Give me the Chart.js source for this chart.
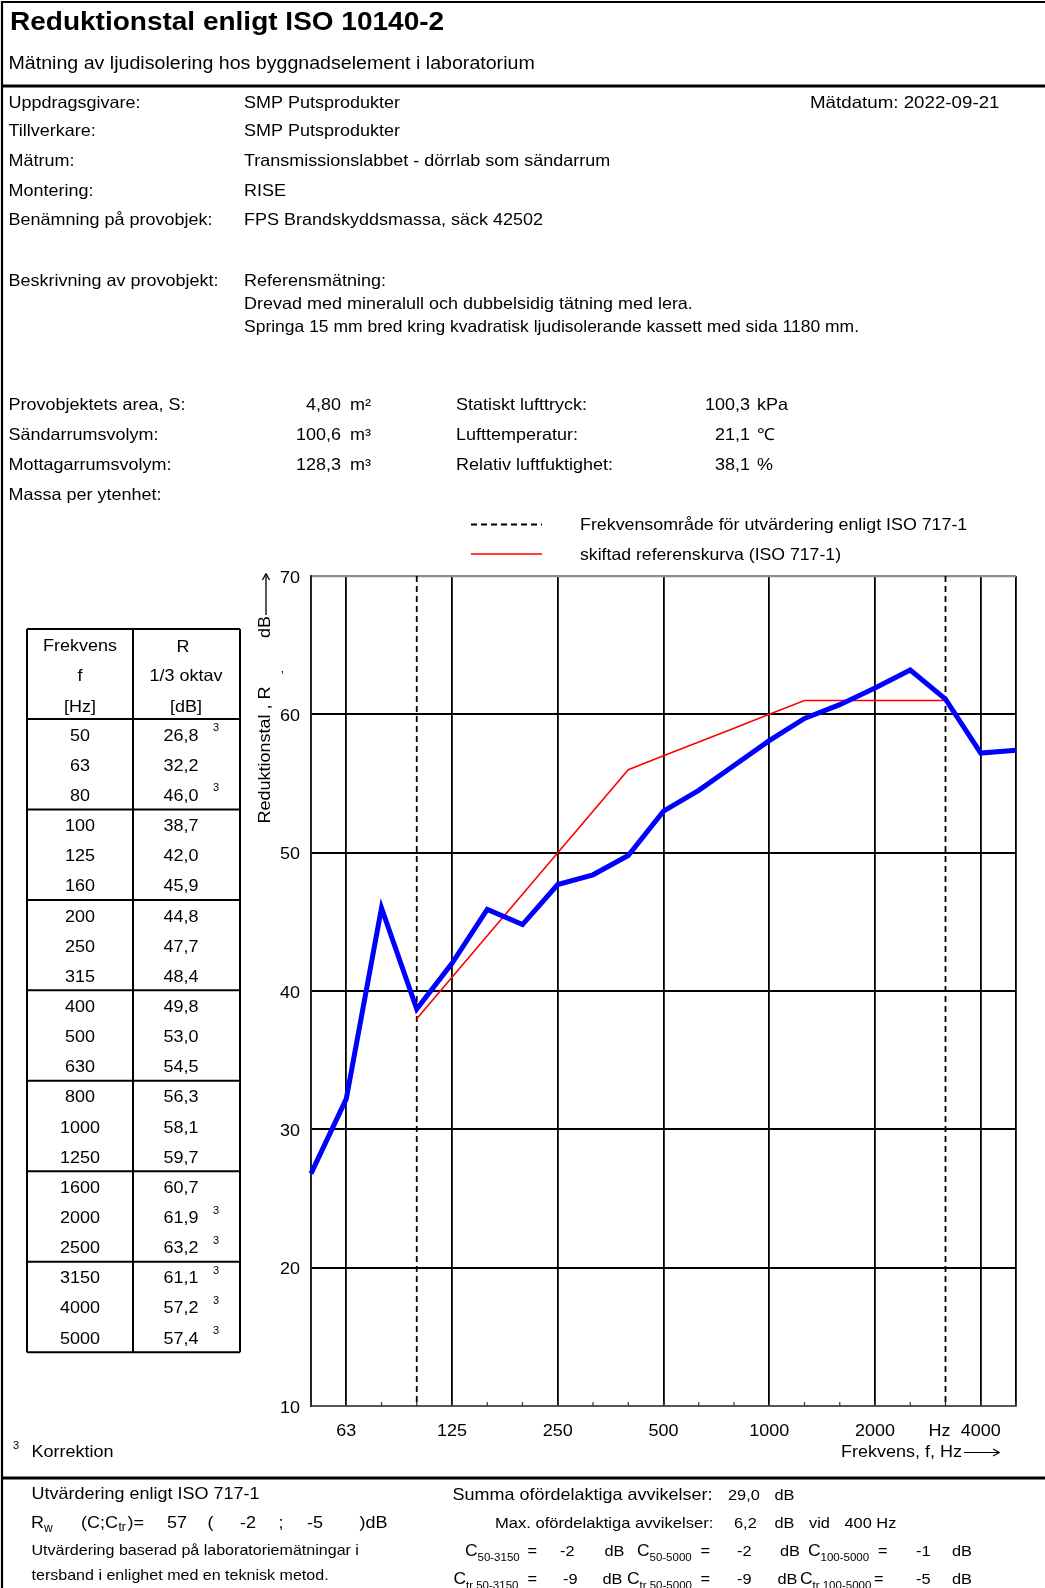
<!DOCTYPE html>
<html>
<head>
<meta charset="utf-8">
<script src="https://cdn.jsdelivr.net/npm/chart.js@4.4.1/dist/chart.umd.min.js"></script>
<style>
  html, body { margin: 0; padding: 0; background: #fff; }
  canvas { display: block; }
</style>
</head>
<body>
<canvas id="c" width="1045" height="1588"></canvas>
<script>
// ---------- data ----------
const bands = ['50','63','80','100','125','160','200','250','315','400','500','630','800','1000','1250','1600','2000','2500','3150','4000','5000'];
const measuredR = [26.8,32.2,46.0,38.7,42.0,45.9,44.8,47.7,48.4,49.8,53.0,54.5,56.3,58.1,59.7,60.7,61.9,63.2,61.1,57.2,57.4];
const shiftedRef = [null,null,null,38,41,44,47,50,53,56,57,58,59,60,61,61,61,61,61,null,null];
const correctedBands = ['50','80','2000','2500','3150','4000','5000'];
const yTickValues = [10,20,30,40,50,60,70];
const xTickBands = ['63','125','250','500','1000','2000','3150','4000'];
const xTickLabels = ['63','125','250','500','1000','2000','Hz','4000'];
const majorGridBands = ['50','63','125','250','500','1000','2000','4000','5000'];
const evalRangeBands = ['100','3150'];

const FONT = '"Liberation Sans", Arial, Helvetica, sans-serif';
const YOFF = 2;

function T(ctx, s, x, y, o = {}) {
  const size = o.size || 16.5, sx = o.sx || 1.09;
  ctx.save();
  ctx.font = (o.bold ? 'bold ' : '') + size + 'px ' + FONT;
  ctx.textBaseline = o.base || 'middle';
  ctx.textAlign = o.align || 'left';
  ctx.fillStyle = o.color || '#000';
  ctx.translate(x, o.rot ? y : y + YOFF);
  if (o.rot) ctx.rotate(o.rot);
  ctx.scale(sx, 1);
  ctx.fillText(s, 0, 0);
  ctx.restore();
}
function L(ctx, x1, y1, x2, y2, w, color, dash) {
  ctx.save();
  ctx.beginPath();
  ctx.strokeStyle = color || '#000';
  ctx.lineWidth = w || 1;
  if (dash) ctx.setLineDash(dash);
  ctx.moveTo(x1, y1); ctx.lineTo(x2, y2);
  ctx.stroke();
  ctx.restore();
}
const fmt = v => v.toFixed(1).replace('.', ',');

const pagePlugin = {
  id: 'page',
  beforeDatasetsDraw(chart) {
    const ctx = chart.ctx, xs = chart.scales.x, a = chart.chartArea;
    bands.forEach((b, i) => {
      const x = xs.getPixelForValue(i);
      L(ctx, x, a.bottom, x, a.bottom - 4, 1.2, '#333');
    });
    evalRangeBands.forEach(b => {
      const x = xs.getPixelForValue(bands.indexOf(b));
      L(ctx, x, a.top, x, a.bottom, 1.8, '#000', [6, 4]);
    });
  },
  afterDraw(chart) {
    const ctx = chart.ctx, xs = chart.scales.x, ys = chart.scales.y, a = chart.chartArea;

    // ---- page frame ----
    L(ctx, 2, 2, 1045, 2, 2.2);
    L(ctx, 2, 1, 2, 1588, 2.2);
    L(ctx, 2, 86, 1045, 86, 3);
    L(ctx, 2, 1478, 1045, 1478, 3);

    // ---- header ----
    T(ctx, 'Reduktionstal enligt ISO 10140-2', 10, 21, {size: 25, sx: 1.12, bold: true});
    T(ctx, 'Mätning av ljudisolering hos byggnadselement i laboratorium', 8.5, 62.5, {size: 17.5, sx: 1.12});

    const rows = [
      [101, 'Uppdragsgivare:', 'SMP Putsprodukter', 1.09],
      [129, 'Tillverkare:', 'SMP Putsprodukter', 1.09],
      [159, 'Mätrum:', 'Transmissionslabbet - dörrlab som sändarrum', 1.09],
      [189, 'Montering:', 'RISE', 1.09],
      [218.5, 'Benämning på provobjek:', 'FPS Brandskyddsmassa, säck 42502', 1.09],
      [279, 'Beskrivning av provobjekt:', 'Referensmätning:', 1.09],
      [302, '', 'Drevad med mineralull och dubbelsidig tätning med lera.', 1.09],
      [325, '', 'Springa 15 mm bred kring kvadratisk ljudisolerande kassett med sida 1180 mm.', 1.06]
    ];
    rows.forEach(r => { if (r[1]) T(ctx, r[1], 8.5, r[0]); T(ctx, r[2], 244, r[0], {sx: r[3]}); });
    T(ctx, 'Mätdatum: 2022-09-21', 810, 101, {sx: 1.135});

    const params = [
      [403, 'Provobjektets area, S:', '4,80', 'm²', 'Statiskt lufttryck:', '100,3', 'kPa'],
      [433, 'Sändarrumsvolym:', '100,6', 'm³', 'Lufttemperatur:', '21,1', '℃'],
      [463, 'Mottagarrumsvolym:', '128,3', 'm³', 'Relativ luftfuktighet:', '38,1', '%'],
      [493, 'Massa per ytenhet:', '', '', '', '', '']
    ];
    params.forEach(p => {
      T(ctx, p[1], 8.5, p[0]);
      if (p[2]) T(ctx, p[2], 341, p[0], {align: 'right'});
      if (p[3]) T(ctx, p[3], 350, p[0]);
      if (p[4]) T(ctx, p[4], 456, p[0]);
      if (p[5]) T(ctx, p[5], 750, p[0], {align: 'right'});
      if (p[6]) T(ctx, p[6], 757, p[0]);
    });

    // ---- legend ----
    L(ctx, 471, 524.5, 542, 524.5, 1.8, '#000', [6, 4]);
    T(ctx, 'Frekvensområde för utvärdering enligt ISO 717-1', 580, 523.5, {sx: 1.08});
    L(ctx, 471, 554, 542, 554, 1.6, '#ff0000');
    T(ctx, 'skiftad referenskurva (ISO 717-1)', 580, 553.5, {sx: 1.07});

    // ---- axis labels ----
    yTickValues.forEach(v => T(ctx, String(v), a.left - 11, ys.getPixelForValue(v), {align: 'right'}));
    xTickBands.forEach((b, k) => {
      const dx = xTickLabels[k] === 'Hz' ? -6 : 0;
      T(ctx, xTickLabels[k], xs.getPixelForValue(bands.indexOf(b)) + dx, a.bottom + 23, {align: 'center'});
    });
    T(ctx, 'Frekvens, f, Hz', 841, 1450);
    L(ctx, 964, 1452.5, 999, 1452.5, 1.2);
    L(ctx, 993, 1449, 999.5, 1452.5, 1.2);
    L(ctx, 993, 1456, 999.5, 1452.5, 1.2);

    T(ctx, 'Reduktionstal , R', 265, 755, {rot: -Math.PI / 2, align: 'center'});
    T(ctx, '\u2019', 281, 675, {size: 12, sx: 1});
    T(ctx, 'dB', 265, 627, {rot: -Math.PI / 2, align: 'center'});
    L(ctx, 266, 615, 266, 574, 1.3);
    L(ctx, 262.5, 580, 266, 573.5, 1.3);
    L(ctx, 269.5, 580, 266, 573.5, 1.3);

    // ---- table ----
    const tL = 27, tM = 133, tR = 240, tTop = 629, tHead = 719, rowH = 30.15;
    const tBot = tHead + rowH * bands.length;
    L(ctx, tL, tTop, tR, tTop, 2);
    L(ctx, tL, tTop, tL, tBot, 2);
    L(ctx, tM, tTop, tM, tBot, 2);
    L(ctx, tR, tTop, tR, tBot, 2);
    L(ctx, tL, tHead, tR, tHead, 2);
    for (let g = 3; g <= bands.length; g += 3) {
      const y = tHead + rowH * g;
      L(ctx, tL, y, tR, y, 2);
    }
    T(ctx, 'Frekvens', 80, 644, {align: 'center'});
    T(ctx, 'f', 80, 674, {align: 'center'});
    T(ctx, '[Hz]', 80, 705, {align: 'center'});
    T(ctx, 'R', 183, 645, {align: 'center'});
    T(ctx, '1/3 oktav', 186, 674, {align: 'center'});
    T(ctx, '[dB]', 186, 705, {align: 'center'});
    bands.forEach((b, i) => {
      const y = tHead + rowH * (i + 0.5);
      T(ctx, b, 80, y, {align: 'center'});
      T(ctx, fmt(measuredR[i]), 181, y, {align: 'center'});
      if (correctedBands.includes(b)) T(ctx, '3', 213, y - 8, {size: 11, sx: 1});
    });
    T(ctx, '3', 13, 1444, {size: 11, sx: 1});
    T(ctx, 'Korrektion', 31.5, 1450);

    // ---- footer ----
    T(ctx, 'Utvärdering enligt ISO 717-1', 31.5, 1492.5);
    const fy = 1521;
    T(ctx, 'R', 31, fy);
    T(ctx, 'w', 44, fy + 6, {size: 12, sx: 1});
    T(ctx, '(C;C', 81, fy);
    T(ctx, 'tr', 118.5, fy + 5, {size: 12, sx: 1});
    T(ctx, ')=', 127.5, fy);
    T(ctx, '57', 167, fy);
    T(ctx, '(', 207.5, fy);
    T(ctx, '-2', 240, fy);
    T(ctx, ';', 278.5, fy);
    T(ctx, '-5', 307, fy);
    T(ctx, ')dB', 359.5, fy);
    T(ctx, 'Utvärdering baserad på laboratoriemätningar i', 31.5, 1549, {size: 15, sx: 1.07});
    T(ctx, 'tersband i enlighet med en teknisk metod.', 31.5, 1573.5, {size: 15, sx: 1.07});

    T(ctx, 'Summa ofördelaktiga avvikelser:', 452.5, 1493.5);
    T(ctx, '29,0', 728, 1493.5, {size: 15});
    T(ctx, 'dB', 774.5, 1493.5, {size: 15});
    T(ctx, 'Max. ofördelaktiga avvikelser:', 495, 1522, {size: 15, sx: 1.105});
    T(ctx, '6,2', 734, 1522, {size: 15});
    T(ctx, 'dB', 774.5, 1522, {size: 15});
    T(ctx, 'vid', 809, 1522, {size: 15});
    T(ctx, '400 Hz', 844.5, 1522, {size: 15});

    const cRow = (y, items) => items.forEach(it => {
      T(ctx, 'C', it[0], y, {size: 16});
      T(ctx, it[1], it[0] + 12.5, y + 6, {size: 11.5, sx: 1});
      T(ctx, '=', it[2], y, {size: 15});
      T(ctx, it[3], it[4], y, {size: 15});
      T(ctx, 'dB', it[5], y, {size: 15});
    });
    cRow(1550, [
      [465, '50-3150', 527.5, '-2', 560, 604.5],
      [637, '50-5000', 700.5, '-2', 737, 780],
      [808, '100-5000', 878, '-1', 916, 952]
    ]);
    cRow(1578, [
      [453.5, 'tr 50-3150', 527.5, '-9', 563, 602.5],
      [627, 'tr 50-5000', 700.5, '-9', 737, 777.5],
      [800, 'tr 100-5000', 874, '-5', 916, 952]
    ]);
  }
};

const majorIdx = new Set(majorGridBands.map(b => bands.indexOf(b)));

new Chart(document.getElementById('c'), {
  type: 'line',
  data: {
    labels: bands,
    datasets: [
      { data: measuredR, borderColor: '#0000ff', borderWidth: 5, pointRadius: 0, tension: 0, order: 1, borderJoinStyle: 'miter' },
      { data: shiftedRef, borderColor: '#ff0000', borderWidth: 1.6, pointRadius: 0, tension: 0, order: 2, spanGaps: false }
    ]
  },
  options: {
    responsive: false,
    devicePixelRatio: 1,
    animation: false,
    events: [],
    layout: { padding: { left: 311, right: 29, top: 576, bottom: 182 } },
    plugins: { legend: { display: false }, title: { display: false }, tooltip: { enabled: false } },
    scales: {
      x: {
        type: 'category',
        offset: false,
        ticks: { display: false, autoSkip: false },
        grid: {
          drawTicks: false,
          color: c => majorIdx.has(c.index) ? '#000' : 'rgba(0,0,0,0)',
          lineWidth: 1.8
        },
        border: { display: true, color: '#555', width: 2 }
      },
      y: {
        min: 10, max: 70,
        ticks: { display: false, stepSize: 10 },
        grid: {
          drawTicks: false,
          color: c => (c.tick && c.tick.value === 70) ? '#8c8c8c' : '#000',
          lineWidth: c => (c.tick && c.tick.value === 70) ? 2.2 : 2
        },
        border: { display: true, color: '#222', width: 1.8 }
      }
    }
  },
  plugins: [pagePlugin]
});
</script>
</body>
</html>
